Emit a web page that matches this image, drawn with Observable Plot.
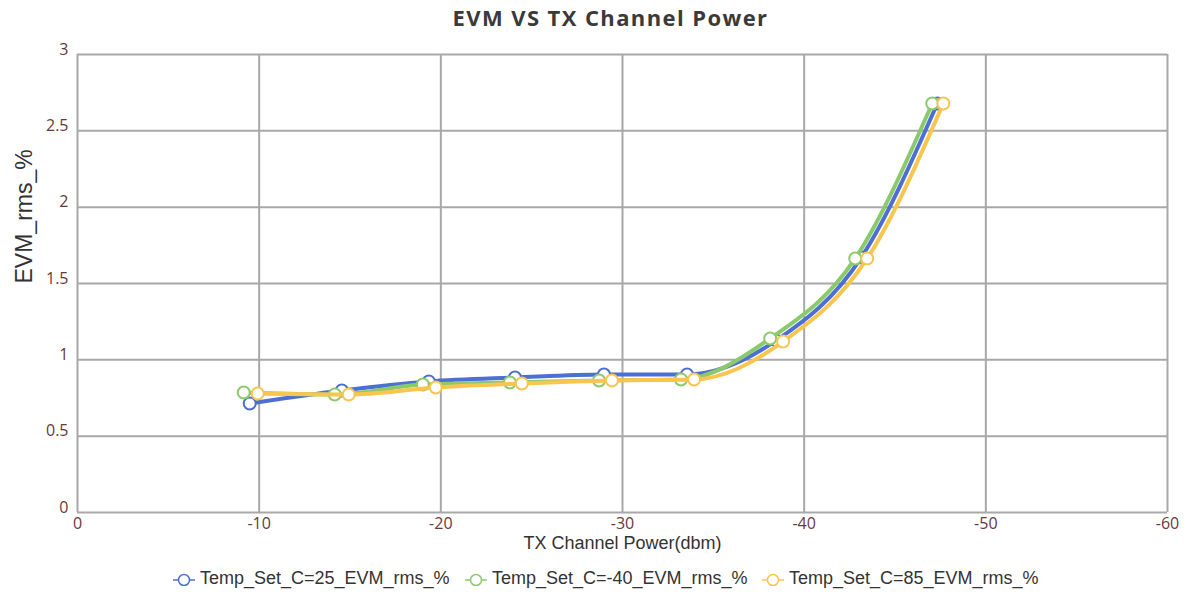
<!DOCTYPE html>
<html>
<head>
<meta charset="utf-8">
<script src="https://cdn.jsdelivr.net/npm/d3@7"></script>
<script src="https://cdn.jsdelivr.net/npm/@observablehq/plot@0.6"></script>
<style>
  html, body { margin: 0; padding: 0; background: #fff; }
  #wrap { position: relative; width: 1189px; height: 595px; overflow: hidden; }
  #title { height: 36px; line-height: 34px; text-align: center; padding-left: 32px; font-family: "Open Sans", sans-serif; font-weight: bold; font-size: 22px; letter-spacing: 1.4px; color: #3a3a3a; }
  #legend { position: relative; height: 33px; font-family: "Liberation Sans", Arial, sans-serif; font-size: 18px; color: #333; }
  .item { position: absolute; top: 6px; display: flex; align-items: center; white-space: nowrap; }
  .item svg { margin-right: 5px; }
</style>
</head>
<body>
<div id="wrap">
  <div id="title">EVM VS TX Channel Power</div>
  <div id="chart"></div>
  <div id="legend"></div>
</div>
<script>
// ---- data ----
const seriesNames = ["Temp_Set_C=25_EVM_rms_%", "Temp_Set_C=-40_EVM_rms_%", "Temp_Set_C=85_EVM_rms_%"];
const seriesColors = ["#4d6fd4", "#8cc96c", "#f8c64f"];

const powerC25  = [-9.48, -14.55, -19.34, -24.08, -28.98, -33.55, -38.46, -43.14, -47.33];
const evmC25    = [0.714, 0.799, 0.858, 0.884, 0.904, 0.904, 1.127, 1.670, 2.679];

const powerCm40 = [-9.15, -14.16, -19.01, -23.80, -28.71, -33.22, -38.13, -42.81, -47.05];
const evmCm40   = [0.786, 0.773, 0.838, 0.852, 0.865, 0.871, 1.140, 1.664, 2.679];

const powerC85  = [-9.92, -14.93, -19.72, -24.46, -29.42, -33.94, -38.84, -43.47, -47.66];
const evmC85    = [0.779, 0.773, 0.819, 0.845, 0.865, 0.871, 1.120, 1.664, 2.679];

const xTicks = [0, -10, -20, -30, -40, -50, -60];
const yTicks = [0, 0.5, 1, 1.5, 2, 2.5, 3];
const xLabel = "TX Channel Power(dbm)";
const yLabel = "EVM_rms_%";

// ---- build table ----
const seriesPower = [powerC25, powerCm40, powerC85];
const seriesEvm = [evmC25, evmCm40, evmC85];
const tables = seriesNames.map((name, i) =>
  seriesPower[i].map((p, j) => ({series: name, power: p, evm: seriesEvm[i][j]}))
);

const gridStyle = {stroke: "#a8a8a8", strokeWidth: 2, strokeOpacity: 1};

const seriesMarks = tables.flatMap((t, i) => [
  Plot.line(t, {x: "power", y: "evm", stroke: seriesColors[i], strokeWidth: 4, curve: "monotone-x"}),
  Plot.dot(t, {x: "power", y: "evm", r: 6, stroke: seriesColors[i], strokeWidth: 2, fill: "white"})
]);

const chart = Plot.plot({
  width: 1189,
  height: 526,
  marginLeft: 77,
  marginRight: 22,
  marginTop: 18,
  marginBottom: 50,
  x: {domain: [0, -60]},
  y: {domain: [0, 3]},
  style: {fontFamily: "Open Sans", fontSize: "16px", color: "#663a3a", background: "white", overflow: "visible"},
  marks: [
    Plot.gridX(xTicks, gridStyle),
    Plot.gridY(yTicks, gridStyle),
    Plot.axisX(xTicks, {tickSize: 0, tickPadding: 5, label: null, tickFormat: d => String(d)}),
    Plot.axisY(yTicks, {tickSize: 0, tickPadding: 9, label: null, dy: -5, tickFormat: d => String(d)}),
    Plot.text([xLabel], {frameAnchor: "bottom", dy: 36, fontSize: 18, fontFamily: "Liberation Sans", fill: "#333"}),
    Plot.text([yLabel], {frameAnchor: "left", dx: -53, rotate: -90, fontSize: 23, fontFamily: "Liberation Sans", fill: "#333"}),
    ...seriesMarks
  ]
});
document.getElementById("chart").appendChild(chart);

// ---- legend ----
const legendLefts = [173, 465, 762];
const legend = document.getElementById("legend");
seriesNames.forEach((name, i) => {
  const item = document.createElement("div");
  item.className = "item";
  item.style.left = legendLefts[i] + "px";
  item.innerHTML = `<svg width="22" height="14"><line x1="0" y1="8" x2="22" y2="8" stroke="${seriesColors[i]}" stroke-width="1.5"/><circle cx="11" cy="8" r="5.5" fill="white" stroke="${seriesColors[i]}" stroke-width="1.5"/></svg><span>${name}</span>`;
  legend.appendChild(item);
});
</script>
</body>
</html>
